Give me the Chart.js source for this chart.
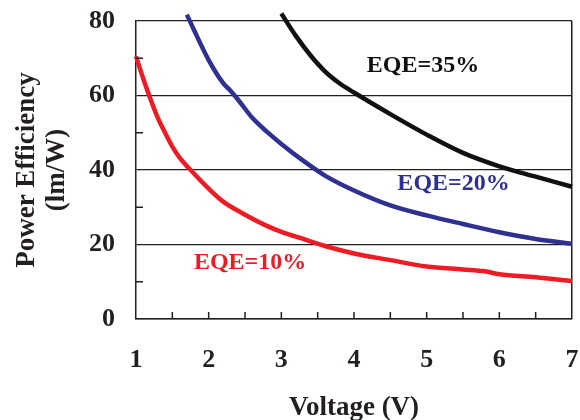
<!DOCTYPE html>
<html>
<head>
<meta charset="utf-8">
<script src="https://cdn.jsdelivr.net/npm/chart.js@4/dist/chart.umd.min.js"></script>
<style>
  html, body { margin: 0; padding: 0; background: #fff; }
  #wrap { width: 580px; height: 420px; }
</style>
</head>
<body>
<div id="wrap"><canvas id="chart" width="580" height="420"></canvas></div>
<script>
const seriesNames = ['EQE=10%', 'EQE=20%', 'EQE=35%']

const redVolts = [1.0, 1.1, 1.2, 1.3, 1.4, 1.5, 1.6, 1.8, 2.0, 2.2, 2.5, 2.8, 3.0, 3.3, 3.6, 4.0, 4.5, 5.0, 5.5, 5.8, 6.0, 6.5, 7.0]
const redEff = [70.5, 64.5, 59.0, 54.0, 50.0, 46.3, 43.3, 39.0, 35.0, 31.5, 28.0, 25.0, 23.4, 21.5, 19.6, 17.6, 15.8, 14.1, 13.3, 12.8, 12.0, 11.2, 10.2]

const blueVolts = [1.7, 1.8, 2.0, 2.2, 2.3, 2.4, 2.6, 2.8, 3.0, 3.3, 3.6, 4.0, 4.5, 5.0, 5.5, 6.0, 6.5, 7.0]
const blueEff = [81.7, 77.5, 69.5, 63.3, 61.3, 59.0, 54.0, 50.3, 47.0, 42.5, 38.5, 34.5, 30.5, 27.8, 25.5, 23.3, 21.5, 20.2]

const blackVolts = [3.0, 3.2, 3.4, 3.6, 3.8, 4.0, 4.5, 5.0, 5.5, 6.0, 6.5, 7.0]
const blackEff = [82.0, 76.0, 70.8, 66.5, 63.3, 60.8, 55.0, 49.5, 44.6, 41.0, 38.2, 35.5]

const xTicks = [1, 2, 3, 4, 5, 6, 7]
const yTicks = [0, 20, 40, 60, 80]

const serif = "'Liberation Serif', 'Times New Roman', serif"
const ink = '#231f20'

const toPoints = (xs, ys) => xs.map((x, i) => ({ x: x, y: ys[i] }))

// inward tick marks plus the in-plot curve labels
const decorations = {
    id: 'decorations',
    afterDatasetsDraw(chart, args, opts) {
        const { ctx, scales: { x, y } } = chart
        ctx.save()
        ctx.strokeStyle = ink
        ctx.lineWidth = 1.5
        ctx.beginPath()
        for (let v = 1.5; v < 7; v += 0.5) {
            const px = x.getPixelForValue(v)
            ctx.moveTo(px, y.bottom)
            ctx.lineTo(px, y.bottom - 7)
        }
        for (let v = 10; v < 80; v += 20) {
            const py = y.getPixelForValue(v)
            ctx.moveTo(x.left, py)
            ctx.lineTo(x.left + 7, py)
        }
        ctx.stroke()

        ctx.font = 'bold 24px ' + serif
        ctx.textAlign = 'center'
        ctx.textBaseline = 'middle'
        opts.labels.forEach(l => {
            ctx.fillStyle = l.color
            ctx.fillText(l.text, x.getPixelForValue(l.v), y.getPixelForValue(l.e))
        })
        ctx.restore()
    }
}

const colors = ['#ed1c24', '#2e3192', '#111111']

new Chart(document.getElementById('chart').getContext('2d'), {
    type: 'line',
    data: {
        datasets: [
            { label: seriesNames[0], data: toPoints(redVolts, redEff), borderColor: colors[0] },
            { label: seriesNames[1], data: toPoints(blueVolts, blueEff), borderColor: colors[1] },
            { label: seriesNames[2], data: toPoints(blackVolts, blackEff), borderColor: colors[2] }
        ].map(d => ({ ...d, borderWidth: 4.5, pointRadius: 0, fill: false, cubicInterpolationMode: 'monotone', clip: false }))
    },
    options: {
        responsive: false,
        animation: false,
        events: [],
        layout: { padding: { top: 21, right: 8, left: 0, bottom: 0 } },
        plugins: {
            legend: { display: false },
            tooltip: { enabled: false },
            decorations: {
                labels: [
                    { text: seriesNames[2], v: 4.95, e: 67.9, color: colors[2] },
                    { text: seriesNames[1], v: 5.37, e: 36.4, color: colors[1] },
                    { text: seriesNames[0], v: 2.57, e: 15.1, color: colors[0] }
                ]
            }
        },
        scales: {
            x: {
                type: 'linear',
                min: 1,
                max: 7,
                afterFit: s => { s.height = 101; s.paddingLeft = 0; s.paddingRight = 0 },
                afterBuildTicks: s => { s.ticks = xTicks.map(v => ({ value: v })) },
                ticks: { padding: 26, color: ink, font: { family: serif, size: 26, weight: 'bold' } },
                grid: {
                    drawTicks: false,
                    color: c => (c.tick && c.tick.value === 7 ? ink : 'transparent'),
                    lineWidth: 1.5
                },
                border: { color: ink, width: 1.5 },
                title: {
                    display: true,
                    text: 'Voltage (V)',
                    color: ink,
                    padding: { top: 0, bottom: -3 },
                    font: { family: serif, size: 27, weight: 'bold', lineHeight: 1.1 }
                }
            },
            y: {
                min: 0,
                max: 80,
                afterFit: s => { s.width = 136; s.paddingTop = 0; s.paddingBottom = 0 },
                afterBuildTicks: s => { s.ticks = yTicks.map(v => ({ value: v })) },
                ticks: { padding: 21, color: ink, font: { family: serif, size: 26, weight: 'bold' } },
                grid: { drawTicks: false, color: ink, lineWidth: 1.3 },
                border: { color: ink, width: 1.5 },
                title: {
                    display: true,
                    text: ['Power Efficiency', '(lm/W)'],
                    color: ink,
                    padding: { top: 12, bottom: 0 },
                    font: { family: serif, size: 27, weight: 'bold', lineHeight: 1.1 }
                }
            }
        }
    },
    plugins: [decorations]
})
</script>
</body>
</html>
